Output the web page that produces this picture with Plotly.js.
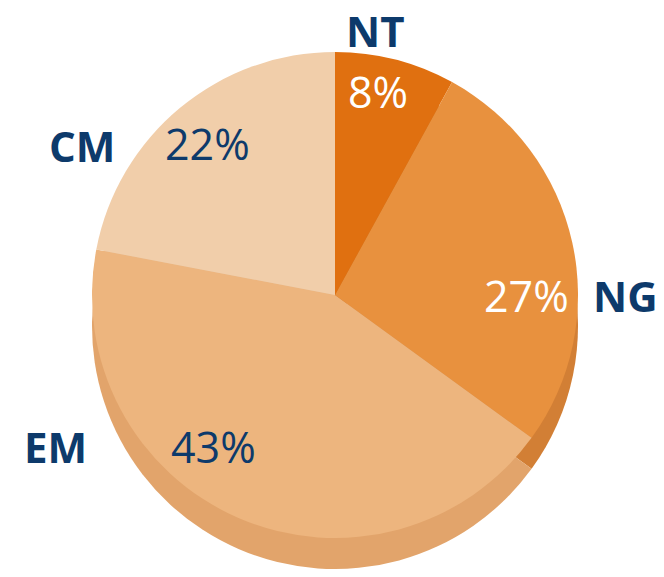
<!DOCTYPE html>
<html>
<head>
<meta charset="utf-8">
<script src="https://cdn.plot.ly/plotly-3.0.1.min.js"></script>
<style>html,body{margin:0;padding:0;background:#fff;}#chart{width:664px;height:577px;}</style>
</head>
<body>
<div id="chart"></div>
<script>
// Data
const categories = ["NT", "NG", "EM", "CM"];
const shares = [8, 27, 43, 22];
const topColors = ["#E07010", "#E8913E", "#EDB57E", "#F1CEAA"];
const sideColors = ["#C8620C", "#D27F35", "#E2A46B", "#E4BA90"];

const W = 664, H = 577;
const cx = 335, cy = 295, R = 243, depth = 31;
function dom(offset) {
  return {
    x: [(cx - R) / W, (cx + R) / W],
    y: [1 - (cy + R + offset) / H, 1 - (cy - R + offset) / H]
  };
}

const base = {
  type: "pie",
  labels: categories,
  values: shares,
  sort: false,
  direction: "clockwise",
  rotation: 0,
  textinfo: "none",
  hoverinfo: "label+percent",
  showlegend: false
};

const sideTrace = Object.assign({}, base, {
  domain: dom(depth),
  marker: { colors: sideColors, line: { width: 0 } }
});
const faceTrace = Object.assign({}, base, {
  domain: dom(0),
  marker: { colors: topColors, line: { width: 0 } }
});

// label placement (layout only)
const labelPos = [[375, 31], [625, 295], [55, 446], [82, 145]];
const pctPos = [[378, 92], [526, 295], [213, 446], [207, 143]];
const pctColors = ["#FFFFFF", "#FFFFFF", "#0D3A6B", "#0D3A6B"];
const navy = "#0D3A6B";

const total = shares.reduce((a, b) => a + b, 0);
const annotations = [];
categories.forEach((c, i) => {
  annotations.push({
    text: "<b>" + c + "</b>", x: labelPos[i][0] / W, y: 1 - labelPos[i][1] / H,
    xref: "paper", yref: "paper", showarrow: false, xanchor: "center", yanchor: "middle",
    font: { family: "Open Sans, sans-serif", size: 42, color: navy }
  });
  annotations.push({
    text: Math.round(shares[i] / total * 100) + "%", x: pctPos[i][0] / W, y: 1 - pctPos[i][1] / H,
    xref: "paper", yref: "paper", showarrow: false, xanchor: "center", yanchor: "middle",
    font: { family: "Open Sans, sans-serif", size: 43, color: pctColors[i] }
  });
});

Plotly.newPlot("chart", [sideTrace, faceTrace], {
  width: W, height: H,
  margin: { l: 0, r: 0, t: 0, b: 0 },
  paper_bgcolor: "#FFFFFF",
  annotations: annotations
}, { displayModeBar: false, staticPlot: true });
</script>
</body>
</html>
